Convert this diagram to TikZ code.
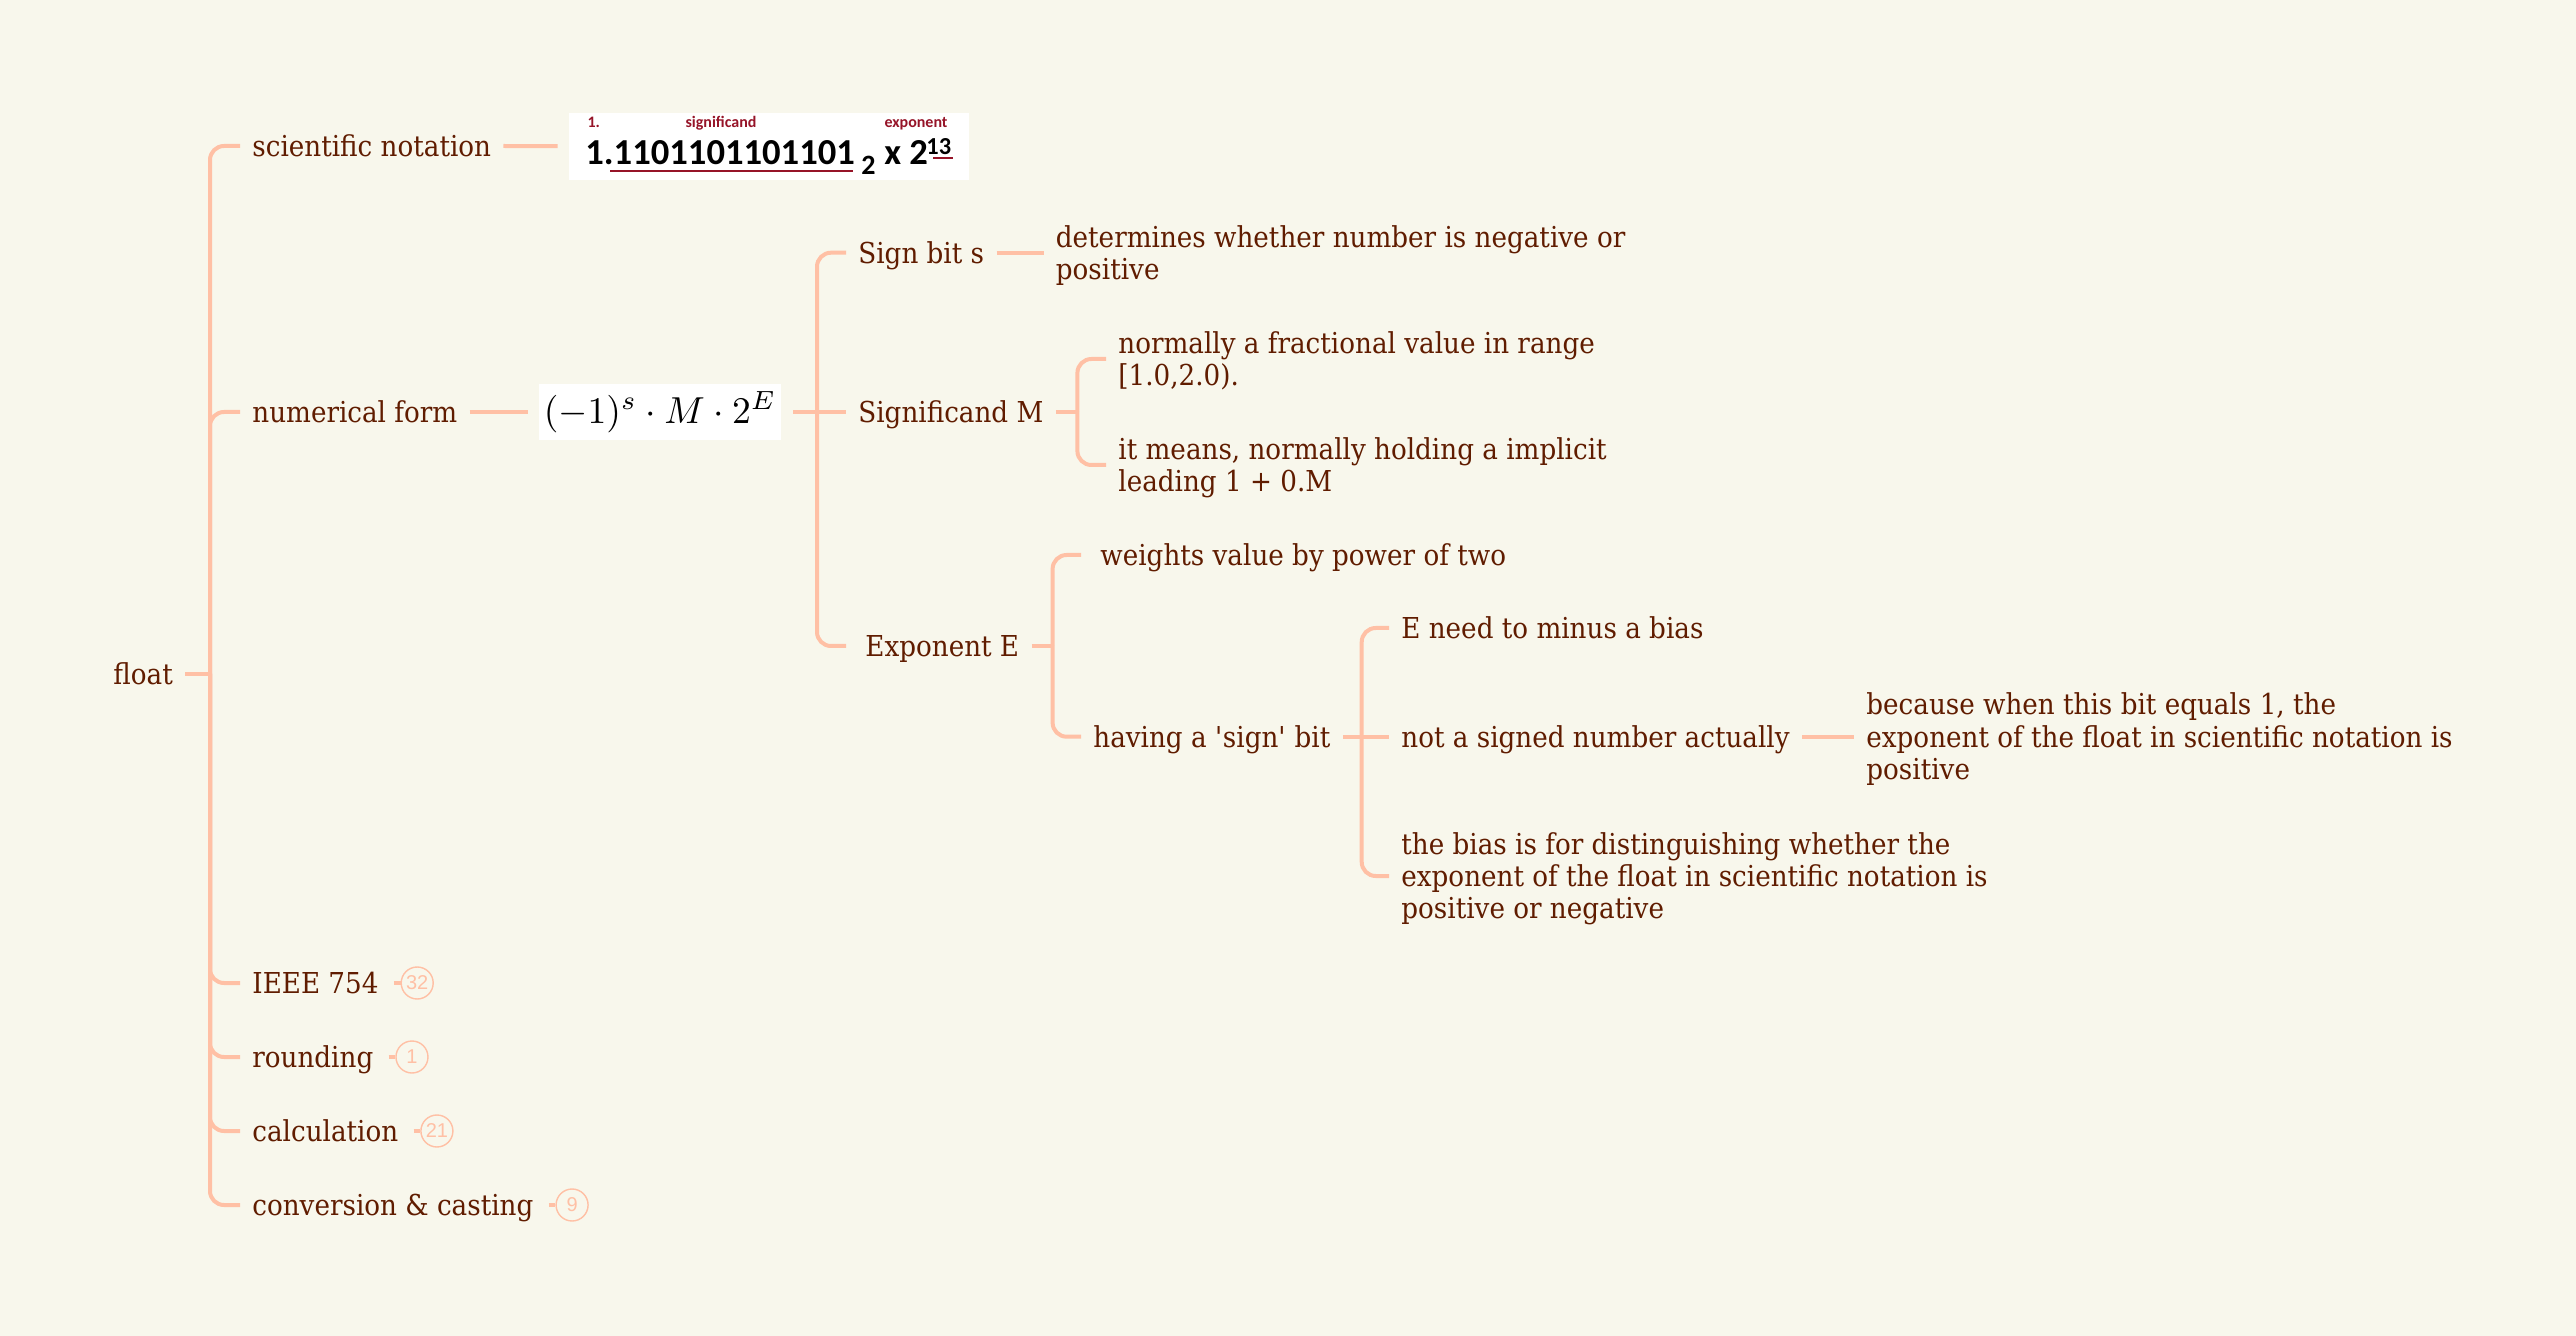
\documentclass[tikz,border=0pt]{standalone}
\usepackage{fontspec}
\usepackage{graphicx}
\setmainfont{DejaVu Serif}[FakeStretch=0.91]
\newfontfamily\calib{Carlito}
\newfontfamily\badgefont{Liberation Sans}
\definecolor{bg}{RGB}{248,247,236}
\definecolor{ln}{RGB}{255,192,165}
\definecolor{tx}{RGB}{96,28,0}
\definecolor{dred}{RGB}{150,20,40}
\newcommand{\ml}[1]{\begin{tabular}[t]{@{}l@{}}#1\end{tabular}}
\tikzset{
  topic/.style={anchor=west, inner xsep=6pt, inner ysep=0pt, text=tx,
    font=\fontsize{14.4}{16.15}\selectfont, text height=10.5pt, text depth=0pt},
  two/.style={text depth=16.15pt},
  three/.style={text depth=32.3pt},
  conn/.style={draw=ln, line width=2pt, rounded corners=7pt},
  badge/.style={circle, draw=ln, line width=0.7pt, minimum size=16pt, inner sep=0pt,
    text=ln, font=\badgefont\fontsize{10}{12}\selectfont, anchor=west},
  bconn/.style={draw=ln, line width=1.6pt, shorten <=1.5pt},
  imgbox/.style={fill=white, inner sep=0pt},
  lbl/.style={anchor=base, inner sep=0pt, text=dred, font=\calib\bfseries\fontsize{8}{10}\selectfont},
  big/.style={anchor=base west, inner sep=0pt, text=black, font=\calib\bfseries\fontsize{18.3}{20}\selectfont},
}
\begin{document}
\begin{tikzpicture}[x=0.5pt,y=-0.5pt]
\fill[bg] (0,0) rectangle (2576,1336);
\useasboundingbox (0,0) rectangle (2576,1336);

% level 0/1
\node[topic] (float) at (101,674) {float};
\coordinate (j0) at (210,674);
\node[topic] (sci) at (240,146) {scientific notation};
\node[topic] (num) at (240,412) {numerical form};
\node[topic] (ieee) at (240,983) {IEEE 754};
\node[topic] (rnd) at (240,1057) {rounding};
\node[topic] (calc) at (240,1131) {calculation};
\node[topic] (conv) at (240,1205) {conversion \& casting};

\draw[conn] (float.east) -- (j0);
\foreach \n in {sci,num,ieee,rnd,calc,conv} \draw[conn] (j0) |- (\n.west);

% badges
\node[badge] (b1) at ([xshift=4.8pt]ieee.east) {32};
\node[badge] (b2) at ([xshift=4.8pt]rnd.east) {1};
\node[badge] (b3) at ([xshift=4.8pt]calc.east) {21};
\node[badge] (b4) at ([xshift=4.8pt]conv.east) {9};
\draw[bconn] (ieee.east) -- (b1.west);
\draw[bconn] (rnd.east) -- (b2.west);
\draw[bconn] (calc.east) -- (b3.west);
\draw[bconn] (conv.east) -- (b4.west);

% scientific notation image
\node[imgbox, minimum width=200pt, minimum height=33.75pt] (sciimg) at (769,146.3) {};
\node[lbl] (l1) at (593.8,128) {1.};
\node[lbl] (l2) at (721,128) {significand};
\node[lbl] (l3) at (916,128) {exponent};
\node[big] (mant) at (585,165) {1.1101101101101};
\node[big, font=\calib\bfseries\fontsize{14}{16}\selectfont] (sub) at (861,175) {2};
\node[big] (xtwo) at (884,165) {x 2};
\node[big, font=\calib\bfseries\fontsize{12.2}{14}\selectfont] (sup) at (926,155) {13};
\draw[dred, line width=1pt] (610,170.7) -- (853,170.7);
\draw[dred, line width=0.8pt] (933,158.3) -- (953,158.3);
\draw[conn, shorten >=5.5pt] (sci.east) -- (sciimg.west);

% numerical form
\node[imgbox, minimum width=121pt, minimum height=28pt] (formula) at (660,412)
  {\scalebox{1.88}{$(-1)^s\cdot M\cdot 2^E$}};
\draw[conn, shorten >=5.5pt] (num.east) -- (formula.west);

\coordinate (j2) at (817,412);
\node[topic] (sign) at (846,252.7) {Sign bit s};
\node[topic] (sigM) at (846,412) {Significand M};
\node[topic] (expE) at (853,646) {Exponent E};
\draw[conn, shorten <=6pt] (formula.east) -- (sigM.west);
\draw[conn] (j2) |- (sign.west);
\draw[conn, shorten >=3.5pt] (j2) |- (expE.west);

\node[topic, two] (det) at (1043.5,252.7) {\ml{determines whether number is negative or\\positive}};
\draw[conn] (sign.east) -- (det.west);

\coordinate (j3) at (1077.4,412);
\node[topic, two] (frac) at (1106,359) {\ml{normally a fractional value in range\\{}[1.0,2.0).}};
\node[topic, two] (impl) at (1106,465) {\ml{it means, normally holding a implicit\\leading 1 + 0.M}};
\draw[conn] (sigM.east) -- (j3);
\draw[conn] (j3) |- (frac.west);
\draw[conn] (j3) |- (impl.west);

\coordinate (j4) at (1052.6,646);
\node[topic] (wts) at (1088,555) {weights value by power of two};
\node[topic] (hav) at (1081,736.7) {having a \textquotesingle sign\textquotesingle\ bit};
\draw[conn] (expE.east) -- (j4);
\draw[conn, shorten >=3.5pt] (j4) |- (wts.west);
\draw[conn] (j4) |- (hav.west);

\coordinate (j5) at (1361.7,736.7);
\node[topic] (Ebias) at (1389,628) {E need to minus a bias};
\node[topic] (nsn) at (1389,736.7) {not a signed number actually};
\node[topic, three] (bfor) at (1389,876) {\ml{the bias is for distinguishing whether the\\exponent of the float in scientific notation is\\positive or negative}};
\draw[conn] (hav.east) -- (nsn.west);
\draw[conn] (j5) |- (Ebias.west);
\draw[conn] (j5) |- (bfor.west);

\node[topic, three] (bec) at (1854,736.7) {\ml{because when this bit equals 1, the\\exponent of the float in scientific notation is\\positive}};
\draw[conn] (nsn.east) -- (bec.west);
\end{tikzpicture}
\end{document}
